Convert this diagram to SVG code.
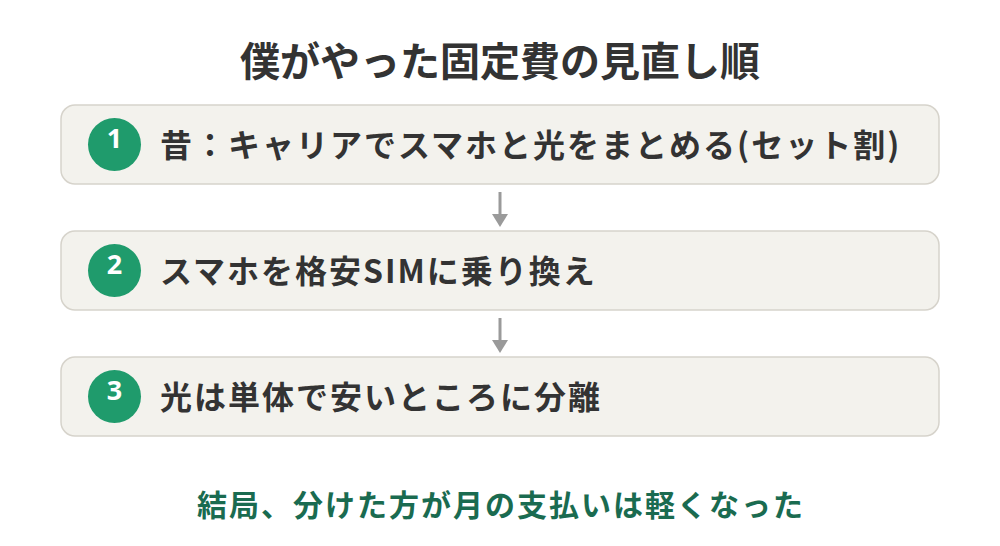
<svg xmlns="http://www.w3.org/2000/svg" width="1000" height="546" viewBox="0 0 1000 546">
<defs>
<style>
.box{fill:#f3f2ed;stroke:#d6d3cb;stroke-width:1.5}
.num{fill:#1f9b6c}
.numt{fill:#fff;font-family:"Noto Sans","Noto Sans CJK JP",sans-serif;font-weight:700;font-size:27px;text-anchor:middle}
.lbl{fill:#333;font-family:"Noto Sans CJK JP",sans-serif;font-weight:700;font-size:32px;letter-spacing:2px}
.title{fill:#333;font-family:"Noto Sans CJK JP",sans-serif;font-weight:700;font-size:40px;text-anchor:middle}
.foot{fill:#1a6b50;font-family:"Noto Sans CJK JP",sans-serif;font-weight:700;font-size:30px;letter-spacing:2px;text-anchor:middle}
.conn{stroke:#9a9a9a;stroke-width:3;fill:none}
.head{fill:#9a9a9a}
</style>
</defs>
<rect width="1000" height="546" fill="#fff"/>
<text class="title" x="500" y="76">僕がやった固定費の見直し順</text>
<g id="connectors">
<line class="conn" x1="500" y1="192" x2="500" y2="216"/>
<path class="head" d="M492,214 L508,214 L500,227 Z"/>
<line class="conn" x1="500" y1="318" x2="500" y2="342"/>
<path class="head" d="M492,340 L508,340 L500,353 Z"/>
</g>
<g id="node1">
<rect class="box" x="61" y="105" width="878" height="79" rx="14"/>
<circle class="num" cx="114.5" cy="144.5" r="26.5"/>
<text class="numt" x="114.5" y="148">1</text>
<text class="lbl" x="160" y="157">昔：キャリアでスマホと光をまとめる(セット割)</text>
</g>
<g id="node2">
<rect class="box" x="61" y="231" width="878" height="79" rx="14"/>
<circle class="num" cx="114.5" cy="270.5" r="26.5"/>
<text class="numt" x="114.5" y="274">2</text>
<text class="lbl" x="160" y="283">スマホを格安SIMに乗り換え</text>
</g>
<g id="node3">
<rect class="box" x="61" y="357" width="878" height="79" rx="14"/>
<circle class="num" cx="114.5" cy="396.5" r="26.5"/>
<text class="numt" x="114.5" y="400">3</text>
<text class="lbl" x="160" y="409">光は単体で安いところに分離</text>
</g>
<text class="foot" x="501" y="516">結局、分けた方が月の支払いは軽くなった</text>
</svg>
